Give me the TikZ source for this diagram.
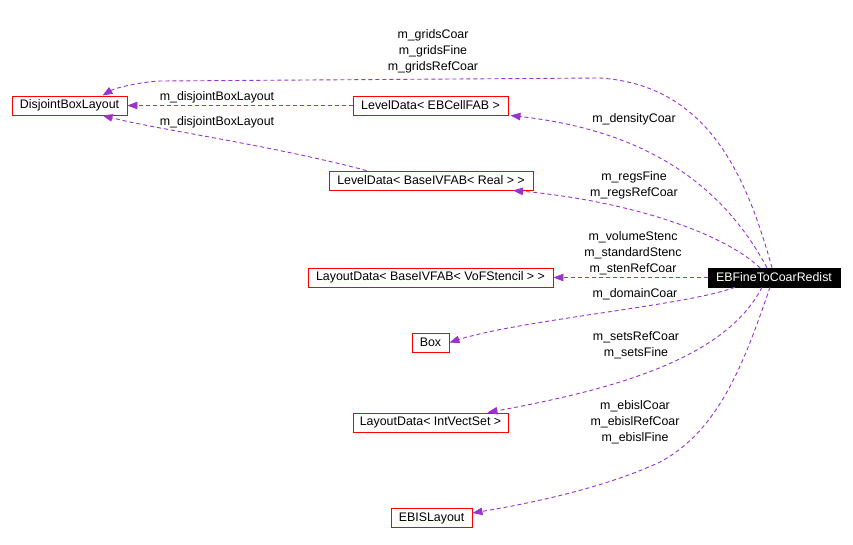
\documentclass[tikz,border=0pt]{standalone}
\usepackage{fontspec}
\setmainfont{Liberation Sans}
\usetikzlibrary{arrows.meta,calc}
\definecolor{edgepurple}{HTML}{9A32CD}
\begin{document}
\begin{tikzpicture}[x=1pt,y=-1pt,
  font=\fontsize{12.4}{16}\selectfont,
  cls/.style={draw=red,line width=0.9pt,minimum height=19pt,inner sep=0pt,text=black},
  mainbox/.style={fill=black,draw=black,minimum height=19pt,inner sep=0pt,text=white},
  rel/.style={draw=edgepurple,line width=0.9pt,dash pattern=on 4pt off 3pt,
    -{Triangle[length=10pt,width=7.5pt,fill=edgepurple]}},
  lbl/.style={align=center,inner sep=0pt,text=black}]
\useasboundingbox[fill=white] (0,0) rectangle (853,544);

% nodes
\node[cls,minimum width=115pt] (DBL) at (69.5,105.5) {DisjointBoxLayout};
\node[cls,minimum width=155pt] (LDC) at (430.5,105.5) {LevelData< EBCellFAB >};
\node[cls,minimum width=204pt] (LDR) at (431,180.5) {LevelData< BaseIVFAB< Real > >};
\node[cls,minimum width=245pt] (LDV) at (430.5,277.5) {LayoutData< BaseIVFAB< VoFStencil > >};
\node[cls,minimum width=37pt] (BOX) at (430.5,342.5) {Box};
\node[cls,minimum width=155pt] (LDI) at (430.5,422.5) {LayoutData< IntVectSet >};
\node[cls,minimum width=81pt] (EBL) at (431.5,518) {EBISLayout};
\node[mainbox,minimum width=132pt] (E) at (774,277.5) {EBFineToCoarRedist};

% named end points
\coordinate (s1) at ($(E.north)+(-2,0)$);
\coordinate (s4) at ($(E.north)+(-7,0)$);
\coordinate (s5) at ($(E.north)+(-14,0)$);
\coordinate (s7) at ($(E.south)+(-39,0)$);
\coordinate (s8) at ($(E.south)+(-12,0)$);
\coordinate (s9) at ($(E.south)+(-4,0)$);
\coordinate (t1) at ($(DBL.north)+(33,0)$);
\coordinate (t3) at ($(DBL.south)+(33,0)$);
\coordinate (s3) at ($(LDR.north west)+(38,0)$);
\coordinate (t4) at ($(LDC.south east)+(2,0)$);
\coordinate (t5) at ($(LDR.south)+(82,0)$);
\coordinate (t8) at ($(LDI.north east)+(-21,0)$);
\coordinate (t9) at ($(EBL.east)+(0,-5)$);

% edges
\draw[rel] (s1) .. controls (745,170) and (705,85) .. (600,78)
  -- (160,81) .. controls (140,82) and (115,88) .. (t1);
\draw[rel] (LDC.west) -- (DBL.east);
\draw[rel] (s3) .. controls (270,145) and (160,130) .. (t3);
\draw[rel] (s4) .. controls (720,180) and (640,130) .. (t4);
\draw[rel] (s5) .. controls (720,230) and (620,200) .. (t5);
\draw[rel] (E.west) -- (LDV.east);
\draw[rel] (s7) .. controls (690,305) and (520,320) .. (BOX.east);
\draw[rel] (s8) .. controls (725,360) and (610,390) .. (t8);
\draw[rel] (s9) .. controls (745,360) and (720,430) .. (660,462)
  .. controls (600,490) and (520,505) .. (t9);

% labels
\node[lbl] (l1) at (433,51) {m\_gridsCoar\\m\_gridsFine\\m\_gridsRefCoar};
\node[lbl] (l2) at (217,97) {m\_disjointBoxLayout};
\node[lbl] (l3) at (217,122) {m\_disjointBoxLayout};
\node[lbl] (l4) at (634,119) {m\_densityCoar};
\node[lbl] (l5) at (634,185) {m\_regsFine\\m\_regsRefCoar};
\node[lbl] (l6) at (633,253) {m\_volumeStenc\\m\_standardStenc\\m\_stenRefCoar};
\node[lbl] (l7) at (635,294) {m\_domainCoar};
\node[lbl] (l8) at (636,345) {m\_setsRefCoar\\m\_setsFine};
\node[lbl] (l9) at (635,422) {m\_ebislCoar\\m\_ebislRefCoar\\m\_ebislFine};
\end{tikzpicture}
\end{document}
